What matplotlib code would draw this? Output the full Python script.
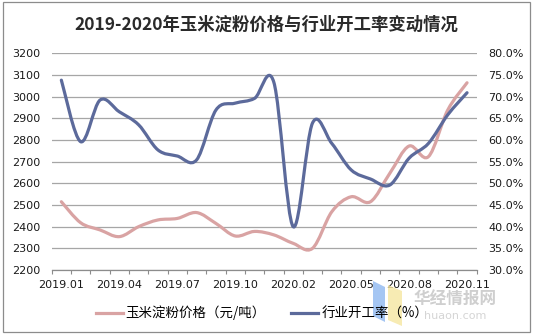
import matplotlib
matplotlib.use('Agg')
import matplotlib.pyplot as plt
import numpy as np
from matplotlib.path import Path
from matplotlib.patches import PathPatch, Polygon, Rectangle
from matplotlib.lines import Line2D
from matplotlib.ticker import FuncFormatter, FixedLocator

plt.rcParams['font.family'] = ['DejaVu Sans', 'Noto Sans CJK SC']

months = ['2019.01', '2019.02', '2019.03', '2019.04', '2019.05', '2019.06',
          '2019.07', '2019.08', '2019.09', '2019.10', '2019.11', '2019.12',
          '2020.02', '2020.03', '2020.04', '2020.05', '2020.06', '2020.07',
          '2020.08', '2020.09', '2020.10', '2020.11']
price = [2515, 2418, 2385, 2354, 2400, 2431, 2438, 2465, 2415, 2357, 2378,
         2362, 2323, 2300, 2469, 2538, 2515, 2646, 2772, 2723, 2938, 3064]
rate = [73.8, 59.6, 69.2, 66.5, 63.5, 57.7, 56.3, 55.4, 66.9, 68.5, 69.6,
        73.3, 40.0, 63.9, 59.2, 53.1, 51.0, 49.6, 55.8, 59.2, 65.8, 70.9]

price_color = '#d9a3a3'
rate_color = '#5c6a9b'


def smooth_path(x, y):
    # excel-style smoothed line: catmull-rom segments as cubic bezier
    pts = np.column_stack([x, y]).astype(float)
    verts = [pts[0]]
    codes = [Path.MOVETO]
    n = len(pts)
    for i in range(n - 1):
        p0 = pts[i - 1] if i > 0 else pts[i]
        p1 = pts[i]
        p2 = pts[i + 1]
        p3 = pts[i + 2] if i + 2 < n else pts[i + 1]
        c1 = p1 + (p2 - p0) / 6.0
        c2 = p2 - (p3 - p1) / 6.0
        verts += [c1, c2, p2]
        codes += [Path.CURVE4] * 3
    return Path(verts, codes)


fig = plt.figure(figsize=(5.33, 3.36), dpi=100)
fig.patches.append(Rectangle((2.5 / 533, 4 / 336), 527.5 / 533, 330.5 / 336,
                             transform=fig.transFigure, fill=False,
                             edgecolor='#8c8c8c', linewidth=0.9))

ax = fig.add_axes([51.7 / 533, 66 / 336, 425 / 533, 216.7 / 336])
ax2 = ax.twinx()

x = np.arange(len(months))
ax.add_patch(PathPatch(smooth_path(x, price), fill=False, edgecolor=price_color,
                       linewidth=2.3, capstyle='round', joinstyle='round'))
ax2.add_patch(PathPatch(smooth_path(x, rate), fill=False, edgecolor=rate_color,
                        linewidth=2.3, capstyle='round', joinstyle='round', zorder=3))

ax.set_xlim(-0.5, len(months) - 0.5)
ax.set_ylim(2200, 3200)
ax.set_yticks(np.arange(2200, 3201, 100))
ax2.set_ylim(30, 80)
ax2.set_yticks(np.arange(30, 80.1, 5))
ax2.yaxis.set_major_formatter(FuncFormatter(lambda v, p: '%.1f%%' % v))

ax.grid(axis='y', color='#a6a6a6', linewidth=0.9)
ax.set_axisbelow(True)

ax.set_xticks(x[::3])
ax.set_xticklabels(months[::3])
ax.xaxis.set_minor_locator(FixedLocator(np.arange(-0.5, len(months), 1)))
ax.tick_params(axis='x', which='major', length=0, pad=7.5, labelsize=8, colors='#1a1a1a')
ax.tick_params(axis='x', which='minor', length=3, width=0.8, color='#8c8c8c')
ax.tick_params(axis='y', length=0, pad=8.5, labelsize=8, labelcolor='#1a1a1a')
ax2.tick_params(axis='y', length=0, pad=8.3, labelsize=8, labelcolor='#1a1a1a')

for a in (ax, ax2):
    for side in ('top', 'left', 'right'):
        a.spines[side].set_visible(False)
    a.spines['bottom'].set_color('#8c8c8c')
    a.spines['bottom'].set_linewidth(0.9)
ax2.spines['bottom'].set_visible(False)

fig.text(0.5, 1 - 25 / 336, '2019-2020年玉米淀粉价格与行业开工率变动情况',
         ha='center', va='center', fontsize=12.5, fontweight='bold',
         family=['Noto Sans CJK SC', 'DejaVu Sans'], color='#2a2a2a')

handles = [Line2D([], [], color=price_color, linewidth=2.3),
           Line2D([], [], color=rate_color, linewidth=2.3)]
fig.legend(handles, ['玉米淀粉价格（元/吨）', '行业开工率（%）'], ncol=2,
           loc='center', bbox_to_anchor=(262 / 533, 1 - 313 / 336), frameon=False,
           prop={'family': ['Noto Sans CJK SC', 'DejaVu Sans'], 'size': 9.7},
           handlelength=2.0, handletextpad=0.2, columnspacing=1.9)

# watermark
fig.patches.append(Polygon([[373 / 533, 1 - 281 / 336], [385 / 533, 1 - 287 / 336],
                            [385 / 533, 1 - 322 / 336], [373 / 533, 1 - 316 / 336]],
                           closed=True, transform=fig.transFigure,
                           facecolor='#8fb8f0', edgecolor='none', alpha=0.8))
fig.patches.append(Polygon([[388 / 533, 1 - 285 / 336], [402 / 533, 1 - 291 / 336],
                            [402 / 533, 1 - 326 / 336], [388 / 533, 1 - 320 / 336]],
                           closed=True, transform=fig.transFigure,
                           facecolor='#f5e6a0', edgecolor='none', alpha=0.8))
fig.text(455 / 533, 1 - 300 / 336, '华经情报网', ha='center', va='center', fontsize=12,
         family=['Noto Sans CJK SC'], color='#cfcfcf', fontweight='bold')
fig.text(455 / 533, 1 - 316 / 336, 'huaon.com', ha='center', va='center', fontsize=8,
         color='#d5d5d5')

fig.savefig('out.png', dpi=100)
